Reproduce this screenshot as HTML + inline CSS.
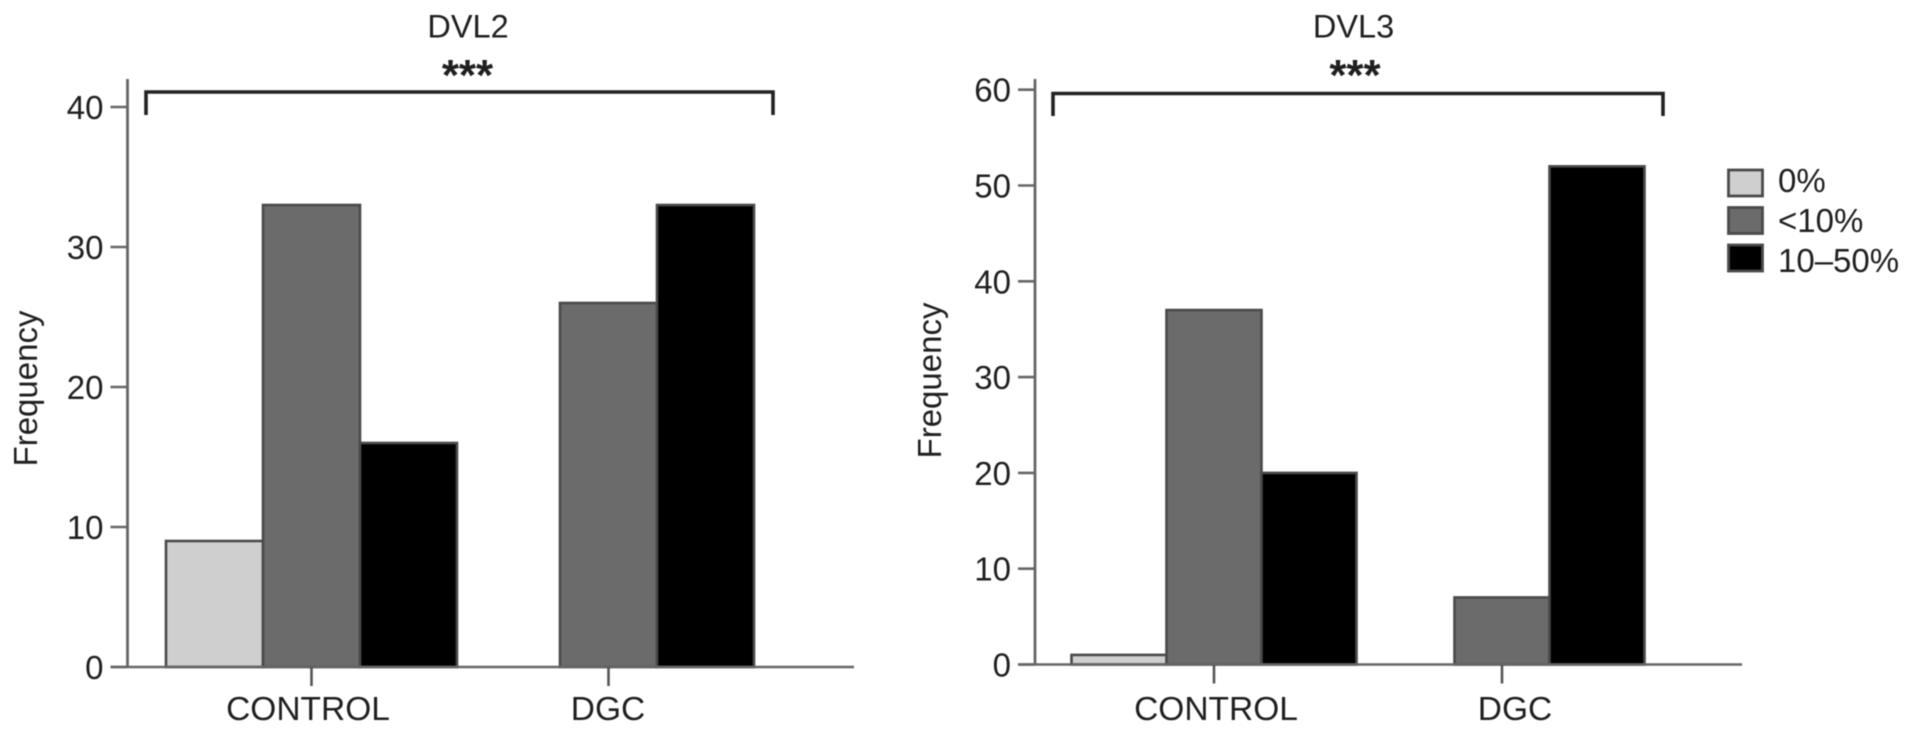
<!DOCTYPE html>
<html lang="en">
<head>
<meta charset="utf-8">
<title>DVL2 and DVL3 frequency by staining category</title>
<style>
html,body{margin:0;padding:0;background:#fff;width:1913px;height:733px;overflow:hidden}
svg{display:block;filter:blur(.55px)}
text{font-family:"Liberation Sans",Arial,sans-serif;fill:#1f1f1f}
</style>
</head>
<body>
<svg id="figure" xmlns="http://www.w3.org/2000/svg" width="1913" height="733" viewBox="0 0 1913 733">
  <g id="panel-left"></g>
  <g id="panel-right"></g>
  <g id="legend"></g>
</svg>
<script>
var categories = ['CONTROL', 'DGC'];
var seriesNames = ['0%', '<10%', '10\u201350%'];
var seriesColors = ['#cfcfcf', '#6b6b6b', '#000000'];
var dvl2Zero = [9, 0];
var dvl2Low = [33, 26];
var dvl2Mid = [16, 33];
var dvl3Zero = [1, 0];
var dvl3Low = [37, 7];
var dvl3Mid = [20, 52];
var dvl2Ticks = [0, 10, 20, 30, 40];
var dvl3Ticks = [0, 10, 20, 30, 40, 50, 60];

var NS = 'http://www.w3.org/2000/svg';
function make(parent, tag, attrs, txt) {
  var el = document.createElementNS(NS, tag);
  for (var k in attrs) { el.setAttribute(k, attrs[k]); }
  if (txt !== undefined) { el.textContent = txt; }
  parent.appendChild(el);
  return el;
}

function drawPanel(cfg) {
  var root = document.getElementById(cfg.rootId);
  function y(v) { return cfg.y0 - v * cfg.unit; }
  function groupCenter(i) { return cfg.center0 + i * cfg.groupStep; }
  function barLeft(g, s) { return groupCenter(g) - 1.5 * cfg.slot + s * cfg.slot; }

  var title = make(root, 'text', {x: cfg.titleX, y: 37.5, 'text-anchor': 'middle', 'font-size': 32.5}, cfg.title);
  
  

  var stars = make(root, 'text', {x: cfg.starX, y: 90, 'text-anchor': 'middle', 'font-size': 44, 'font-weight': 'bold'}, '***');
  
  

  var bracket = make(root, 'path', {d: 'M' + cfg.brL + ' ' + cfg.brB + 'V' + cfg.brT + 'H' + cfg.brR + 'V' + cfg.brB, fill: 'none', stroke: '#222', 'stroke-width': 3.6});
  
  

  cfg.series.forEach(function (values, s) {
    values.forEach(function (v, g) {
      var bar = make(root, 'rect', {
        x: barLeft(g, s), y: y(v), width: cfg.slot, height: y(0) - y(v),
        fill: seriesColors[s], stroke: v > 0 ? '#4a4a4a' : 'none', 'stroke-width': 2.6
      });
      
      
    });
  });

  var yAxis = make(root, 'line', {x1: cfg.axisX, x2: cfg.axisX, y1: 79, y2: cfg.y0 + 1, stroke: '#666', 'stroke-width': 2.8});
  
  

  var xAxis = make(root, 'line', {x1: cfg.axisX - 17, x2: cfg.axisEnd, y1: cfg.y0, y2: cfg.y0, stroke: '#666', 'stroke-width': 2.6});
  
  

  cfg.ticks.forEach(function (t) {
    var tick = make(root, 'line', {x1: cfg.axisX - 17, x2: cfg.axisX, y1: y(t), y2: y(t), stroke: '#666', 'stroke-width': 2.6});
    
    
    var label = make(root, 'text', {x: cfg.axisX - 24, y: y(t) + 12, 'text-anchor': 'end', 'font-size': 33}, String(t));
    
    
  });

  categories.forEach(function (c, i) {
    var tick = make(root, 'line', {x1: groupCenter(i), x2: groupCenter(i), y1: cfg.y0, y2: cfg.y0 + 19, stroke: '#555', 'stroke-width': 2.6});
    
    
    var label = make(root, 'text', {x: cfg.catX[i], y: 720, 'text-anchor': 'middle', 'font-size': 33.5}, c);
    
    
  });

  var yTitle = make(root, 'text', {x: 0, y: 0, 'text-anchor': 'middle', 'font-size': 33, transform: 'translate(' + cfg.freqX + ' ' + cfg.freqY + ') rotate(-90)'}, 'Frequency');
  
  
}

drawPanel({
  rootId: 'panel-left', title: 'DVL2', titleX: 468, starX: 467.5,
  brL: 146, brR: 773, brT: 92, brB: 115,
  axisX: 127.5, axisEnd: 854, y0: 667, unit: 14,
  center0: 311.5, groupStep: 297, slot: 97,
  catX: [308, 608], freqX: 37, freqY: 388.5,
  ticks: dvl2Ticks, series: [dvl2Zero, dvl2Low, dvl2Mid]
});
drawPanel({
  rootId: 'panel-right', title: 'DVL3', titleX: 1353.5, starX: 1355,
  brL: 1053, brR: 1663, brT: 93.5, brB: 116,
  axisX: 1035, axisEnd: 1742, y0: 664.5, unit: 9.58,
  center0: 1214, groupStep: 288, slot: 95,
  catX: [1216, 1515], freqX: 941, freqY: 380.5,
  ticks: dvl3Ticks, series: [dvl3Zero, dvl3Low, dvl3Mid]
});

var legendRoot = document.getElementById('legend');
seriesNames.forEach(function (name, i) {
  var swatch = make(legendRoot, 'rect', {x: 1728.5, y: 170 + i * 37.5, width: 34, height: 26, fill: seriesColors[i], stroke: '#4a4a4a', 'stroke-width': 2.8});
  
  
  var label = make(legendRoot, 'text', {x: 1778, y: 192 + i * 40, 'font-size': 33}, name);
  
  
});
</script>
</body>
</html>
